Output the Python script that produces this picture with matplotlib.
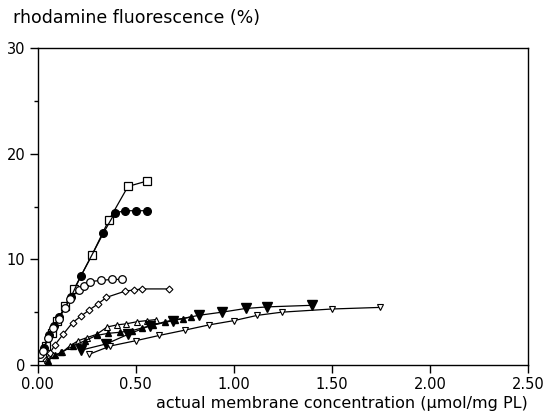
import matplotlib
matplotlib.use("Agg")
import matplotlib.pyplot as plt
from matplotlib.ticker import MultipleLocator

# open squares
sq_x = [0.02, 0.04, 0.07, 0.10, 0.139, 0.185, 0.276, 0.362, 0.46, 0.555]
sq_y = [0.8, 1.8, 3.0, 4.2, 5.6, 7.2, 10.4, 13.7, 16.9, 17.4]

# filled circles
fc_x = [0.03, 0.056, 0.082, 0.109, 0.168, 0.219, 0.335, 0.393, 0.447, 0.50, 0.555]
fc_y = [1.6, 2.8, 3.7, 4.5, 6.4, 8.4, 12.5, 14.4, 14.6, 14.6, 14.6]

# open circles
oc_x = [0.01, 0.027, 0.053, 0.078, 0.109, 0.138, 0.163, 0.208, 0.236, 0.267, 0.321, 0.376, 0.429]
oc_y = [1.0, 1.3, 2.6, 3.5, 4.4, 5.4, 6.2, 7.1, 7.5, 7.9, 8.0, 8.1, 8.1]

# open diamonds
od_x = [0.041, 0.061, 0.087, 0.129, 0.177, 0.218, 0.262, 0.308, 0.35, 0.447, 0.49, 0.532, 0.667]
od_y = [0.5, 1.1, 1.9, 2.9, 4.0, 4.6, 5.2, 5.8, 6.4, 7.0, 7.1, 7.2, 7.2]

# open triangles (up)
ot_x = [0.047, 0.078, 0.124, 0.163, 0.206, 0.252, 0.30, 0.354, 0.405, 0.452, 0.507, 0.555, 0.602]
ot_y = [0.5, 0.9, 1.2, 1.8, 2.3, 2.6, 2.9, 3.6, 3.8, 3.9, 4.1, 4.2, 4.3]

# filled triangles (up)
ft_x = [0.05, 0.09, 0.12, 0.18, 0.24, 0.30, 0.36, 0.42, 0.48, 0.53, 0.59, 0.65, 0.70, 0.74, 0.78]
ft_y = [0.4, 0.9, 1.2, 1.8, 2.3, 2.8, 3.0, 3.1, 3.25, 3.5, 3.8, 4.1, 4.3, 4.4, 4.55]

# filled triangles (down)
fd_x = [0.22, 0.35, 0.46, 0.57, 0.69, 0.82, 0.94, 1.06, 1.17, 1.40]
fd_y = [1.4, 2.0, 2.9, 3.7, 4.2, 4.7, 5.0, 5.35, 5.5, 5.65]

# open triangles (down)
od2_x = [0.26, 0.37, 0.50, 0.62, 0.75, 0.875, 1.0, 1.12, 1.245, 1.5, 1.745]
od2_y = [1.0, 1.8, 2.3, 2.8, 3.3, 3.8, 4.2, 4.7, 5.0, 5.3, 5.45]

xticks = [0, 0.5, 1.0, 1.5, 2.0, 2.5]
xtick_labels = ['0.00', '0.50', '1.00', '1.50', '2.00', '2.50']
yticks = [0, 10, 20, 30]

plt.rcParams['font.family'] = ['DejaVu Sans']

fig = plt.figure(figsize=(5.48, 4.16), dpi=100)
ax = fig.add_axes([0.069, 0.1226, 0.8945, 0.762])

kw = dict(color='black', lw=0.9)
ax.plot(sq_x, sq_y, marker='s', ms=5.5, mfc='white', mec='black', mew=0.9, **kw)
ax.plot(fc_x, fc_y, marker='o', ms=5.5, mfc='black', mec='black', **kw)
ax.plot(oc_x, oc_y, marker='o', ms=5.5, mfc='white', mec='black', mew=0.9, **kw)
ax.plot(od_x, od_y, marker='D', ms=3.5, mfc='white', mec='black', mew=0.8, **kw)
ax.plot(ot_x, ot_y, marker='^', ms=4.5, mfc='white', mec='black', mew=0.8, **kw)
ax.plot(ft_x, ft_y, marker='^', ms=4, mfc='black', mec='black', **kw)
ax.plot(fd_x, fd_y, marker='v', ms=7, mfc='black', mec='black', **kw)
ax.plot(od2_x, od2_y, marker='v', ms=4.5, mfc='white', mec='black', mew=0.8, **kw)

ax.set_xlim(0, 2.5)
ax.set_ylim(0, 30)
ax.set_xticks(xticks)
ax.set_xticklabels(xtick_labels)
ax.set_yticks(yticks)
ax.set_yticklabels([str(v) for v in yticks])
ax.yaxis.set_minor_locator(MultipleLocator(5))
ax.tick_params(axis='both', which='major', direction='out', length=6, width=1,
               labelsize=10.5, pad=3)
ax.tick_params(axis='y', which='minor', direction='out', length=3, width=1)
for s in ax.spines.values():
    s.set_linewidth(1)

fig.text(0.024, 0.957, 'rhodamine fluorescence (%)', fontsize=12.5, ha='left', va='center')
ax.text(1.0, -0.097, 'actual membrane concentration (μmol/mg PL)', transform=ax.transAxes,
        ha='right', va='top', fontsize=11.5)

fig.savefig('out.png', dpi=100)
